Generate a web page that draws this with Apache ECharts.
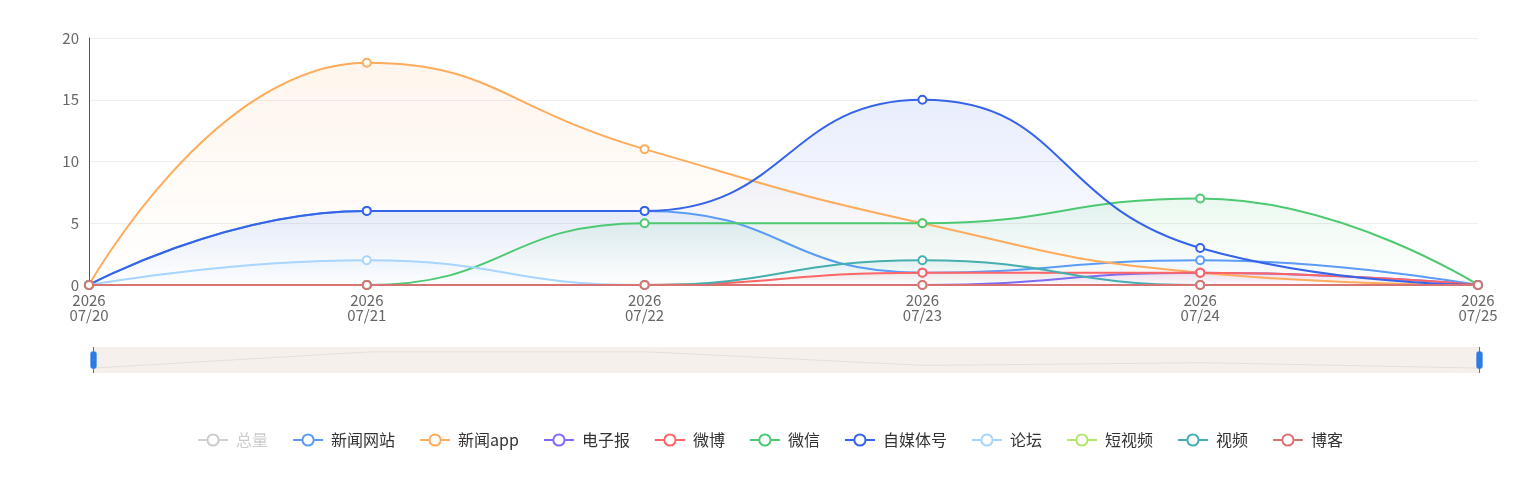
<!DOCTYPE html>
<html>
<head>
    <meta charset="utf-8">
    <title>舆情来源趋势</title>
    <script src="https://cdn.jsdelivr.net/npm/echarts@6/dist/echarts.min.js"></script>
    <style>
        html, body { margin: 0; padding: 0; background: #fff; }
    </style>
</head>
<body>
    <div id="main" style="width: 1540px;height:477px;"></div>
    <script type="text/javascript">
// 日期
var dates = ['2026-07-20', '2026-07-21', '2026-07-22', '2026-07-23', '2026-07-24', '2026-07-25'];

// 各来源数量
var zongliang   = [0, 32, 28, 29, 15, 0];
var xinwenwz    = [0, 6, 6, 1, 2, 0];
var xinwenapp   = [0, 18, 11, 5, 1, 0];
var dianzibao   = [0, 0, 0, 0, 1, 0];
var weibo       = [0, 0, 0, 1, 1, 0];
var weixin      = [0, 0, 5, 5, 7, 0];
var zimeiti     = [0, 6, 6, 15, 3, 0];
var luntan      = [0, 2, 0, 0, 0, 0];
var duanshipin  = [0, 0, 0, 0, 0, 0];
var shipin      = [0, 0, 0, 2, 0, 0];
var boke        = [0, 0, 0, 0, 0, 0];

var yTicks = [0, 5, 10, 15, 20];

var names  = ['总量', '新闻网站', '新闻app', '电子报', '微博', '微信', '自媒体号', '论坛', '短视频', '视频', '博客'];
var values = [zongliang, xinwenwz, xinwenapp, dianzibao, weibo, weixin, zimeiti, luntan, duanshipin, shipin, boke];
var colors = ['#8f8f8f', '#5b9cf8', '#ffab5c', '#7f6bf5', '#ff6466', '#4cc971', '#3563e9', '#a8d5ff', '#b3e66e', '#45afaf', '#d87373'];

function hexToRgba(hex, a) {
    var r = parseInt(hex.substr(1, 2), 16), g = parseInt(hex.substr(3, 2), 16), b = parseInt(hex.substr(5, 2), 16);
    return 'rgba(' + r + ',' + g + ',' + b + ',' + a + ')';
}

var series = [];
for (var i = 0; i < names.length; i++) {
    series.push({
        name: names[i],
        type: 'line',
        smooth: true,
        symbol: 'emptyCircle',
        symbolSize: 8,
        lineStyle: { width: 2 },
        itemStyle: { color: colors[i], borderWidth: 2 },
        areaStyle: {
            color: new echarts.graphic.LinearGradient(0, 0, 0, 1, [
                { offset: 0, color: hexToRgba(colors[i], 0.16) },
                { offset: 1, color: hexToRgba(colors[i], 0) }
            ])
        },
        data: values[i]
    });
}

var legendSel = {};
legendSel['总量'] = false;

var myChart = echarts.init(document.getElementById('main'));
var option = {
    animation: false,
    color: colors,
    textStyle: { fontFamily: '"Noto Sans CJK SC", "Noto Sans", sans-serif' },
    grid: { left: 89, right: 62, top: 38, bottom: 192 },
    legend: {
        bottom: 24,
        left: 'center',
        itemGap: 24,
        itemWidth: 30,
        itemHeight: 14,
        textStyle: { fontSize: 16, color: '#333', padding: [0, 0, 0, 3] },
        inactiveColor: '#ccc',
        selected: legendSel,
        data: names
    },
    xAxis: {
        type: 'category',
        boundaryGap: false,
        data: dates,
        axisLine: { show: true, lineStyle: { color: '#ccc' } },
        axisTick: { show: false },
        axisLabel: {
            color: '#666',
            fontSize: 15,
            lineHeight: 15,
            formatter: function (v) {
                var p = v.split('-');
                return p[0] + '\n' + p[1] + '/' + p[2];
            }
        }
    },
    yAxis: {
        type: 'value',
        min: yTicks[0],
        max: yTicks[yTicks.length - 1],
        interval: 5,
        axisLine: { show: true, lineStyle: { color: '#555' } },
        axisTick: { show: false },
        axisLabel: { color: '#666', fontSize: 15, margin: 10 },
        splitLine: { lineStyle: { color: '#eee' } }
    },
    dataZoom: [{
        type: 'slider',
        xAxisIndex: 0,
        left: 90,
        right: 62,
        top: 347,
        height: 26,
        start: 0,
        end: 100,
        showDetail: false,
        brushSelect: false,
        moveHandleSize: 0,
        borderColor: 'transparent',
        backgroundColor: '#f5f0eb',
        fillerColor: 'rgba(0,0,0,0)',
        handleSize: '100%',
        handleStyle: { color: '#2d7be5', borderColor: '#2d7be5' },
        dataBackground: {
            lineStyle: { color: '#e4dfda', width: 1, opacity: 1 },
            areaStyle: { opacity: 0 }
        },
        selectedDataBackground: {
            lineStyle: { color: '#e4dfda', width: 1, opacity: 1 },
            areaStyle: { opacity: 0 }
        }
    }],
    series: series
};
myChart.setOption(option);
    </script>
</body>
</html>
